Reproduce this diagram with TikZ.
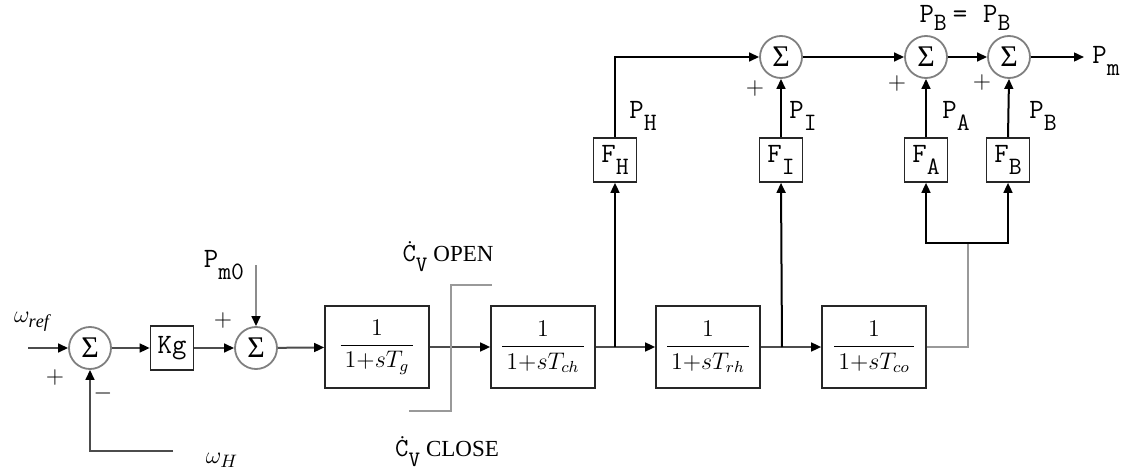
\documentclass[tikz,border=0pt]{standalone}
\usepackage{fontspec}
\setmainfont{Liberation Serif}
\setmonofont{Latin Modern Mono}
\usetikzlibrary{arrows.meta,positioning,calc}
\tikzset{
  sumnode/.style={circle,draw=black!50,line width=0.9pt,
    minimum size=21pt,inner sep=0pt,font=\fontsize{15}{15}\selectfont},
  tfnode/.style={rectangle,draw=black!85,line width=0.8pt,
    minimum width=52pt,minimum height=41pt,inner sep=0pt,
    font=\fontsize{12}{14}\selectfont},
  gainnode/.style={rectangle,draw=black!85,line width=0.8pt,
    minimum width=21.5pt,minimum height=22pt,inner sep=1pt},
  sig/.style={-{Triangle[length=5pt,width=4.4pt,color=black]},
    draw=black!70,line width=1pt},
  wire/.style={draw=black!70,line width=1pt},
  greywire/.style={draw=black!40,line width=1pt},
  lbl/.style={inner sep=0pt},
  signlbl/.style={inner sep=0pt,font=\fontsize{13}{13}\selectfont},
}
% letter with lowered index, as in the plant sheets
\newcommand{\mlab}[3][6pt]{{\ttfamily\fontsize{14}{14}\selectfont #2}%
  \raisebox{-#1}{\ttfamily\fontsize{12.5}{12}\selectfont #3}}
\newcommand{\cvlab}[1]{{\ttfamily\fontsize{13}{13}\selectfont\.{C}}%
  \raisebox{-5pt}{\ttfamily\fontsize{11}{11}\selectfont V}%
  \hspace{3pt}{\fontsize{11.5}{12}\selectfont #1}}
\newcommand{\tfrac}[1]{$\displaystyle\frac{1}{\,1{+}sT_{#1}\,}$}
\newcommand{\sumsign}{\raisebox{0.5pt}{Σ}}

\begin{document}
\begin{tikzpicture}[x=0.5pt,y=-0.5pt]
  \useasboundingbox (0,0) rectangle (1142,471);

  % speed loop
  \node[sumnode](s1)at(90,348){\sumsign};
  \node[gainnode](kg)at(172,348){\ttfamily\fontsize{14}{14}\selectfont Kg};
  \node[sumnode](s2)at(256,348){\sumsign};
  \coordinate (wref) at (28,348);
  \coordinate (wh) at (173,451);
  \coordinate (pm0) at (256,265);

  % turbine chain
  \node[tfnode](tg)at(377,347){\tfrac{g}};
  \node[tfnode](tch)at(543,347){\tfrac{ch}};
  \node[tfnode](trh)at(708,347){\tfrac{rh}};
  \node[tfnode](tco)at(874,347){\tfrac{co}};
  \coordinate (brH) at (615,347);
  \coordinate (brI) at (782,347);
  \coordinate (jn) at (968,243);
  \coordinate (swlo) at (409,411);
  \coordinate (swhi) at (492,285);

  % fractions and summing points
  \node[gainnode](fh)at(615,160){\mlab{F}{H}};
  \node[gainnode](fi)at(781,160){\mlab{F}{I}};
  \node[gainnode](fa)at(926,160){\mlab{F}{A}};
  \node[gainnode](fb)at(1008,160){\mlab{F}{B}};
  \node[sumnode](s3)at(781,57){\sumsign};
  \node[sumnode](s4)at(926,57){\sumsign};
  \node[sumnode](s5)at(1009,57){\sumsign};
  \coordinate (pout) at (1084,57);

  \draw[sig](wref)--(s1);
  \draw[sig](wh)-|(s1.south);
  \draw[sig](s1)--(kg);
  \draw[sig](kg)--(s2);
  \draw[sig,draw=black!45](pm0)--(s2.north);
  \draw[sig](s2)--(tg);
  \draw[sig](tg)--(tch);
  \draw[greywire](swlo)--++(42,0)|-(swhi);
  \draw[sig](tch)--(trh);
  \draw[sig](trh)--(tco);
  \draw[sig,draw=black](brH)--(fh.south);
  \draw[sig,draw=black](brI)--(fi.south);
  \draw[greywire](tco.east)-|(jn);
  \draw[sig,draw=black](jn)-|(fa.south);
  \draw[sig,draw=black](jn)-|(fb.south);
  \draw[sig,draw=black](fh.north)|-(s3.west);
  \draw[sig,draw=black](fi.north)--(s3.south);
  \draw[sig,draw=black](s3)--(s4);
  \draw[sig,draw=black](fa.north)--(s4.south);
  \draw[sig,draw=black](s4)--(s5);
  \draw[sig,draw=black](fb.north)--(s5.south);
  \draw[sig,draw=black](s5)--(pout);

  % labels
  \node[lbl,font=\fontsize{13}{13}\selectfont](lwref)at(32,322){$\omega_{\mathit{ref}}$};
  \node[lbl,font=\fontsize{13}{13}\selectfont](lwh)at(222,460){$\omega_{H}$};
  \node[signlbl](p1)at(55,377){$+$};
  \node[signlbl](m1)at(103,393){$-$};
  \node[signlbl](p2)at(223,320){$+$};
  \node[lbl](lpm0)at(224,265){\mlab{P}{m0}};
  \node[lbl](lopen)at(448,257){\cvlab{OPEN}};
  \node[lbl](lclose)at(447,452){\cvlab{CLOSE}};
  \node[lbl](lph)at(643,116){\mlab{P}{H}};
  \node[lbl](lpi)at(803,116){\mlab{P}{I}};
  \node[lbl](lpa)at(956,116){\mlab{P}{A}};
  \node[lbl](lpb)at(1043,116){\mlab{P}{B}};
  \node[signlbl](p3)at(755,88){$+$};
  \node[signlbl](p4)at(897,84){$+$};
  \node[signlbl](p5)at(982,82){$+$};
  \node[lbl](ltop)at(965,18){\mlab[4pt]{P}{B}\hspace{3pt}{\ttfamily\fontsize{14}{14}\selectfont=\hspace{8pt}}\mlab[4pt]{P}{B}};
  \node[lbl,anchor=west](lpm)at(1092,61){\mlab{P}{m}};
\end{tikzpicture}
\end{document}
